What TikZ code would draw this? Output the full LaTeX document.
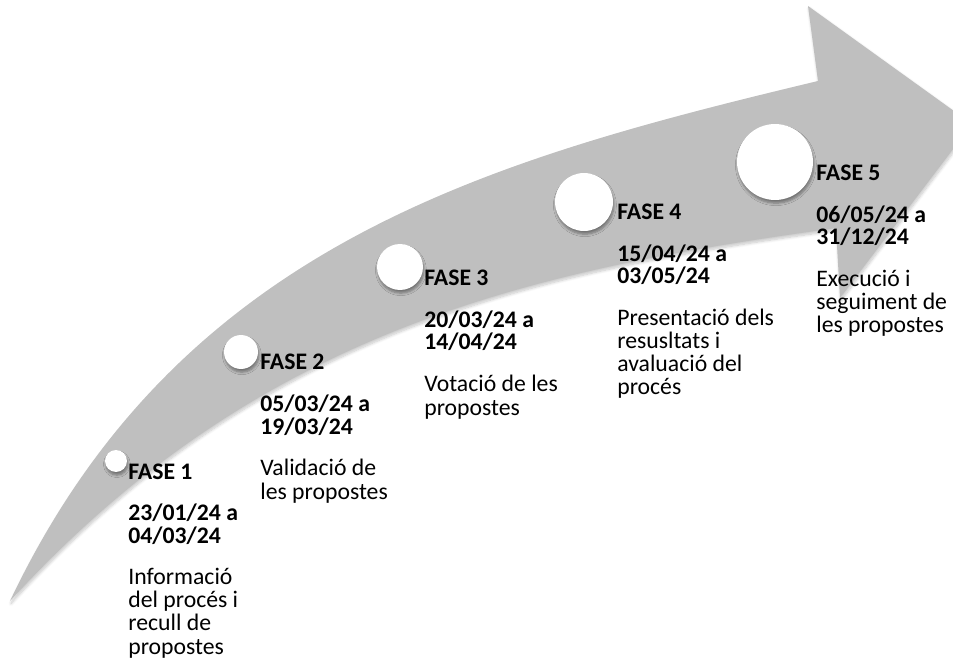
\documentclass[tikz,border=0pt]{standalone}
\usepackage{fontspec}
\setmainfont{Carlito}
\usetikzlibrary{shadows.blur}
\definecolor{bandgray}{RGB}{191,191,191}
\tikzset{
  band/.style={fill=bandgray,blur shadow={shadow xshift=0.6pt,shadow yshift=-1.4pt,shadow blur radius=1.6pt,shadow blur steps=8,shadow opacity=22}},
  phasedot/.style={circle,fill=white,inner sep=0pt,blur shadow={shadow xshift=0.5pt,shadow yshift=-1.8pt,shadow blur radius=1.4pt,shadow blur steps=6,shadow opacity=40}},
  fasetitle/.style={anchor=base west,inner sep=0pt,font=\fontsize{13.5}{13.1}\selectfont\bfseries},
  datelines/.style={anchor=base west,inner sep=0pt,align=left,font=\fontsize{13.5}{12.6}\selectfont\bfseries},
  desclines/.style={anchor=base west,inner sep=0pt,align=left,font=\fontsize{13.5}{13.1}\selectfont}
}
\begin{document}
\begin{tikzpicture}[x=0.02cm,y=-0.02cm]
\useasboundingbox (0,0) rectangle (953,665);
\clip (0,0) rectangle (953,665);
% curved arrow
\path[band] (10,601) .. controls (179,245) and (488,160) .. (818,81) -- (808,6) -- (972,124)
  -- (840,298) -- (836,228) .. controls (540,269) and (262,325) .. (10,601) -- cycle;
% phase markers
\foreach \n/\x/\y/\r in {1/116/461/11,2/241/352/17,3/400/267/23,4/584/202/29,5/775/162/38}
  \node[phasedot,minimum size=\r*0.04cm] (dot\n) at (\x,\y) {};
% phase texts (base = last line)
\foreach \n/\x/\y/\k/\dates/\txt in {
  1/128/479/4/{23/01/24 a\\04/03/24}/{Informació\\del procés i\\recull de\\propostes},
  2/260/370/2/{05/03/24 a\\19/03/24}/{Validació de\\les propostes},
  3/424/286/2/{20/03/24 a\\14/04/24}/{Votació de les\\propostes},
  4/617/220/4/{15/04/24 a\\03/05/24}/{Presentació dels\\resusltats i\\avaluació del\\procés},
  5/816/181/3/{06/05/24 a\\31/12/24}/{Execució i\\seguiment de\\les propostes}} {
  \node[fasetitle] (fase\n) at (\x,\y) {FASE \n};
  \node[datelines] (date\n) at (\x,\y+64) {\dates};
  \node[desclines] (desc\n) at (\x,\y+106+23*\k-23) {\txt};
}
\end{tikzpicture}
\end{document}
